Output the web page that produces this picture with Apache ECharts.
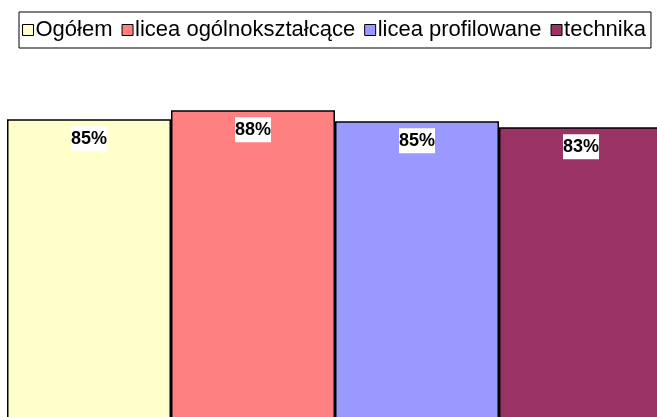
<!DOCTYPE html>
<html style="height: 100%">
   <head>
       <meta charset="utf-8">
   </head>
   <body style="height: 100%; margin: 0; width: 100%; background: #fff;">
       <div id="container" style="height: 417px; width: 657px;"></div>
       <script src="https://cdn.jsdelivr.net/npm/echarts@6/dist/echarts.min.js"></script>
       <script type="text/javascript">
// dane (procenty)
var seriesNames = ['Ogółem', 'licea ogólnokształcące', 'licea profilowane', 'technika'];
var seriesValues = [85.4, 87.6, 84.9, 83.4];
var seriesColors = ['#FFFFCC', '#FF8080', '#9999FF', '#993366'];
var categories = [''];

var dom = document.getElementById("container");
var myChart = echarts.init(dom);
var option = null;

var series = [];
for (var i = 0; i < seriesNames.length; i++) {
    series.push({
        name: seriesNames[i],
        type: 'bar',
        barGap: 0,
        barCategoryGap: 0,
        data: [seriesValues[i]],
        itemStyle: {
            color: seriesColors[i],
            borderColor: '#000',
            borderWidth: 1.5
        },
        label: {
            show: true,
            position: 'insideTop',
            distance: 7,
            formatter: function (p) {
                return Math.round(p.value) + '%';
            },
            color: '#000',
            fontFamily: 'Liberation Sans, Arial, sans-serif',
            fontWeight: 'bold',
            fontSize: 18,
            lineHeight: 19,
            backgroundColor: '#fff',
            padding: [3, 0, 3, 0]
        }
    });
}

option = {
    animation: false,
    legend: {
        left: 19,
        top: 12,
        padding: [7, 5, 7, 3],
        itemGap: 9,
        itemWidth: 11,
        itemHeight: 11,
        icon: 'rect',
        borderColor: '#000',
        borderWidth: 1,
        textStyle: {
            fontFamily: 'Liberation Sans, Arial, sans-serif',
            fontSize: 22,
            color: '#000',
            padding: [0, 0, 0, -3]
        },
        itemStyle: {
            borderColor: '#000',
            borderWidth: 1
        },
        data: seriesNames
    },
    grid: {
        left: 7,
        right: -6,
        top: 60,
        bottom: -48,
        outerBoundsMode: 'none',
        containLabel: false
    },
    xAxis: {
        type: 'category',
        data: categories,
        show: false
    },
    yAxis: {
        type: 'value',
        min: 0,
        max: 100,
        show: false
    },
    series: series
};

if (option && typeof option === "object") {
    myChart.setOption(option, true);
}
       </script>
   </body>
</html>
